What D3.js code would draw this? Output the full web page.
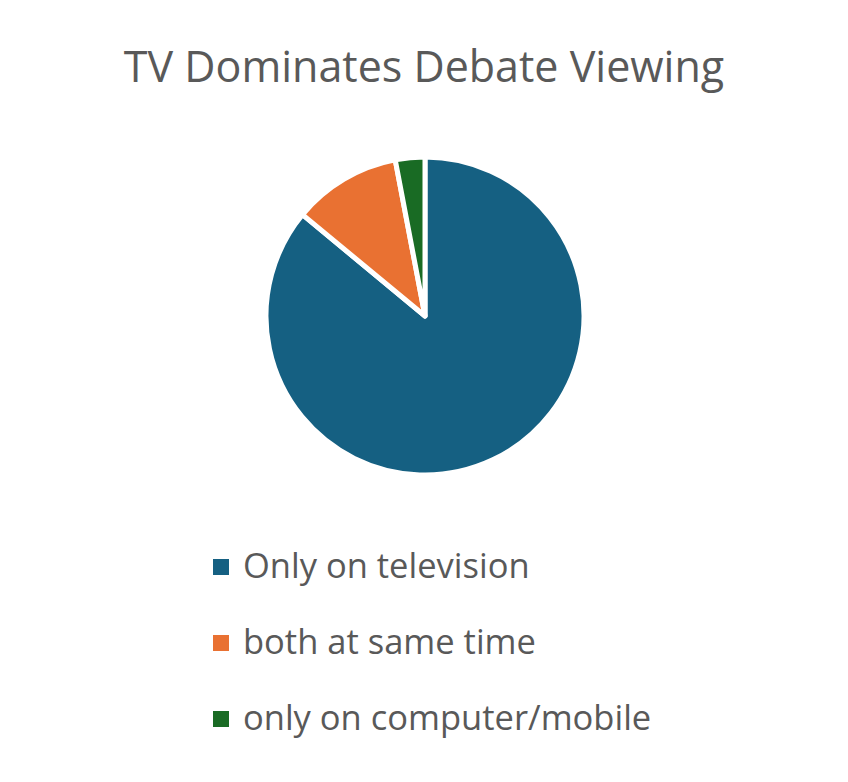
<!DOCTYPE html>
<html>
<head>
<meta charset="utf-8">
<script src="https://cdn.jsdelivr.net/npm/d3@7"></script>
<style>
  body { margin: 0; background: #fff; }
  text { font-family: "Open Sans", "Noto Sans", sans-serif; fill: #595959; }
</style>
</head>
<body>
<div id="chart"></div>
<script>
// Chart data
var categories = ['Only on television', 'both at same time', 'only on computer/mobile'];
var values = [86, 11, 3];
var colors = ['#156082', '#E97132', '#196B24'];
var title = 'TV Dominates Debate Viewing';

var width = 848,
  height = 782,
  cx = 425,
  cy = 316,
  radius = 159;

var svg = d3.select('#chart')
  .append('svg')
  .attr('width', width)
  .attr('height', height);

svg.append('text')
  .attr('x', width / 2)
  .attr('y', 82)
  .attr('text-anchor', 'middle')
  .style('font-size', '43px')
  .text(title);

// pie, clockwise from 12 o'clock
var pie = d3.pie().sort(null).value(function (d) { return d; });
var arc = d3.arc().innerRadius(0).outerRadius(radius);

var data = categories.map(function (c, i) { return { name: c, value: values[i] }; });

var g = svg.append('g')
  .attr('transform', 'translate(' + cx + ',' + cy + ')');

g.selectAll('path')
  .data(pie(values))
  .enter()
  .append('path')
  .attr('d', arc)
  .style('fill', function (d, i) { return colors[i]; })
  .style('stroke', '#fff')
  .style('stroke-width', 5)
  .style('stroke-linejoin', 'round');

// legend
var legend = svg.append('g')
  .attr('transform', 'translate(213,0)');

var rowY = d3.scalePoint()
  .domain(categories)
  .range([578, 730]);

var rows = legend.selectAll('g')
  .data(data)
  .enter()
  .append('g')
  .attr('transform', function (d) { return 'translate(0,' + rowY(d.name) + ')'; });

rows.append('rect')
  .attr('x', 0)
  .attr('y', -19)
  .attr('width', 16)
  .attr('height', 16)
  .style('fill', function (d, i) { return colors[i]; });

rows.append('text')
  .attr('x', 30)
  .attr('y', 0)
  .style('font-size', '34.5px')
  .text(function (d) { return d.name; });
</script>
</body>
</html>
